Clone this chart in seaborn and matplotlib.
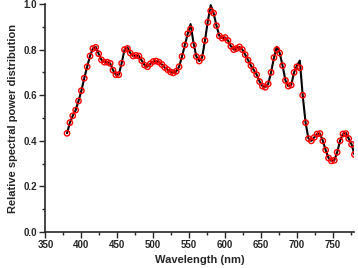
import numpy as np
import pandas as pd
import matplotlib
matplotlib.use("Agg")
import matplotlib.pyplot as plt
import seaborn as sns
from matplotlib.ticker import MultipleLocator

# wavelength grid (nm), every 4 nm
wavelength = np.arange(380, 781, 4)

# fitted / simulated SPD (red circles)
spd_fit = [
    0.433, 0.48, 0.51, 0.535, 0.575, 0.62, 0.675, 0.725, 0.772, 0.805,
    0.81, 0.782, 0.755, 0.745, 0.745, 0.74, 0.71, 0.69, 0.69, 0.74,
    0.80, 0.805, 0.785, 0.772, 0.775, 0.772, 0.752, 0.732, 0.725, 0.738,
    0.748, 0.75, 0.745, 0.735, 0.722, 0.712, 0.702, 0.698, 0.705, 0.725,
    0.77, 0.82, 0.87, 0.89, 0.82, 0.77, 0.75, 0.765, 0.84, 0.92,
    0.97, 0.96, 0.905, 0.86, 0.85, 0.853, 0.84, 0.815, 0.80, 0.805,
    0.812, 0.80, 0.778, 0.754, 0.73, 0.71, 0.69, 0.66, 0.64, 0.635,
    0.65, 0.70, 0.765, 0.80, 0.785, 0.73, 0.665, 0.64, 0.645, 0.70,
    0.725, 0.72, 0.60, 0.48, 0.41, 0.40, 0.415, 0.43, 0.432, 0.40,
    0.36, 0.325, 0.312, 0.315, 0.35, 0.40, 0.43, 0.432, 0.41, 0.385,
    0.34,
]

# measured SPD (black line)
spd_measured = [
    0.433, 0.48, 0.51, 0.535, 0.575, 0.62, 0.675, 0.725, 0.772, 0.805,
    0.812, 0.782, 0.755, 0.745, 0.745, 0.74, 0.71, 0.69, 0.69, 0.74,
    0.80, 0.81, 0.785, 0.772, 0.775, 0.772, 0.752, 0.732, 0.725, 0.738,
    0.748, 0.75, 0.745, 0.735, 0.722, 0.712, 0.702, 0.698, 0.705, 0.725,
    0.77, 0.82, 0.87, 0.912, 0.83, 0.77, 0.75, 0.765, 0.84, 0.925,
    0.995, 0.96, 0.905, 0.86, 0.85, 0.853, 0.84, 0.815, 0.80, 0.805,
    0.812, 0.80, 0.778, 0.754, 0.73, 0.71, 0.69, 0.66, 0.64, 0.635,
    0.65, 0.70, 0.765, 0.812, 0.785, 0.73, 0.665, 0.64, 0.645, 0.70,
    0.73, 0.752, 0.60, 0.48, 0.41, 0.40, 0.415, 0.43, 0.432, 0.40,
    0.36, 0.325, 0.312, 0.315, 0.35, 0.40, 0.43, 0.435, 0.41, 0.385,
    0.34,
]

df = pd.DataFrame({"wl": wavelength, "fit": spd_fit, "meas": spd_measured})

sns.set_style("ticks")
plt.rcParams["font.family"] = ["Liberation Sans", "DejaVu Sans"]

fig = plt.figure(figsize=(3.58, 2.68), dpi=100)
ax = fig.add_axes([0.127, 0.134, 0.863, 0.851])

sns.lineplot(data=df, x="wl", y="meas", color="black", linewidth=1.5, ax=ax)
sns.scatterplot(data=df, x="wl", y="fit", marker="o", s=15,
                facecolors="none", edgecolor="red", linewidth=1.0, ax=ax, zorder=3)

ax.set_xlim(350, 780)
ax.set_ylim(0, 1.0)
ax.xaxis.set_major_locator(MultipleLocator(50))
ax.xaxis.set_minor_locator(MultipleLocator(25))
ax.yaxis.set_major_locator(MultipleLocator(0.2))
ax.yaxis.set_minor_locator(MultipleLocator(0.1))
ax.yaxis.set_major_formatter(matplotlib.ticker.FormatStrFormatter("%.1f"))

ax.tick_params(which="major", direction="out", length=4, width=1.0,
               labelsize=7, pad=2)
ax.tick_params(which="minor", direction="out", length=2, width=1.0)
for lab in ax.get_xticklabels() + ax.get_yticklabels():
    lab.set_fontweight("bold")

ax.set_xlabel("Wavelength (nm)", fontsize=8, fontweight="bold", labelpad=3)
ax.set_ylabel("Relative spectral power distribution", fontsize=8,
              fontweight="bold", labelpad=4)

sns.despine(ax=ax)
for sp in ["left", "bottom"]:
    ax.spines[sp].set_linewidth(1.2)

fig.savefig("out.png", dpi=100)
